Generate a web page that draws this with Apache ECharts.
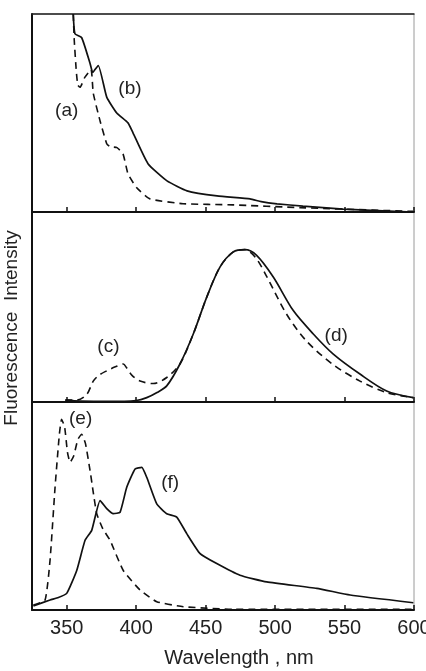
<!DOCTYPE html>
<html>
<head>
<meta charset="utf-8">
<script src="https://cdn.jsdelivr.net/npm/echarts@6/dist/echarts.min.js"></script>
<style>
  html, body { margin: 0; padding: 0; background: #fff; }
  #chart { width: 426px; height: 671px; }
</style>
</head>
<body>
<div id="chart"></div>
<script>
// wavelength (nm), relative intensity (0-100 in each panel)
var curveA = [[354.7,100],[355.4,87],[356.9,71],[358,64],[359.6,63],[363,68],[367.5,72],[369.1,60],[374,46],[378.8,34.5],[381.2,33],[386.2,32.5],[390.5,29.4],[394.1,19.3],[400.4,12.2],[410,6.6],[433.7,4.2],[469.7,3.6],[518,2.2],[599.3,0.3]];
var curveB = [[354.7,100],[355.9,90],[360.8,88],[366.8,75],[368.7,70.5],[372.7,74],[378.8,58],[386,50],[394.1,45],[397.7,40],[408.5,24.4],[422.2,15.7],[436.6,10.7],[458.2,8.1],[482,6.6],[490,5.2],[501.4,4.1],[520,3],[548.9,1.5],[599.3,0]];
var curveC = [[349,1],[357,1],[364.4,4],[369.1,11],[373,14],[378.8,16.4],[385,18.5],[390.7,20],[393.1,18],[397,14],[402.8,11],[412.3,9.7],[422,12.9],[431.5,20],[441.1,35.8],[450.8,55.2],[460.3,71],[469.9,79],[478.3,80.2],[486,76],[494,66],[508.3,46.2],[522.7,32],[541.9,19.6],[561.1,11],[580.3,4.9],[599.5,2.3]];
var curveD = [[349,1],[360,0.5],[380,0.3],[400,0.8],[407.6,2.3],[415,5],[422,8.5],[431.5,20],[441.1,35.8],[450.8,55.2],[460.3,71],[469.9,79],[478.3,80.2],[486.7,77.2],[498.7,65.8],[513.1,48.1],[527.5,35.8],[541.9,25.2],[561.1,14.7],[580.3,5.8],[599.5,2.3]];
var curveE = [[326,2.4],[334.4,4.8],[338,24],[341.6,59],[344.7,84.5],[346.3,91.7],[348.5,88],[350.5,76],[352.4,71],[355,74],[358,82],[360.8,84.5],[363.5,80],[366.8,67],[369.1,56.6],[371.6,46.3],[376,39],[381.2,33.5],[390.7,19],[402.8,9.6],[414.8,4],[433.9,1.6],[470,0.3],[599.5,0.3]];
var curveF = [[326,2],[338,4.8],[344,6],[350,8],[357.2,19],[363.2,33.5],[368,38.3],[374,52.6],[378.8,48.7],[383.5,46.3],[388.4,47],[393.2,59],[399.2,67.8],[404,68.6],[407.6,63.8],[414.8,51],[422,46.3],[429.2,44.7],[436.4,36.7],[446,27.1],[458,22.3],[474.7,16.7],[494,13.5],[530,10.4],[554,7.2],[599.5,3.5]];
var tickValues = [350, 400, 450, 500, 550, 600];
var curveNames = ['(a)', '(b)', '(c)', '(d)', '(e)', '(f)'];
var labelSpots = [[350, 51], [395.5, 62], [380, 29], [544, 35], [360, 92], [424.5, 61]];

var chart = echarts.init(document.getElementById('chart'));
var font = 'Liberation Sans, Arial, sans-serif';

function grid(top, height) {
  return { left: 32, right: 12, top: top, height: height, show: true, borderColor: '#9a9a9a', borderWidth: 1, outerBoundsMode: 'none', containLabel: false };
}
function xAx(idx, withLabels) {
  return {
    type: 'value', gridIndex: idx, min: 325, max: 600, position: 'bottom',
    axisLine: { onZero: false, lineStyle: { color: '#111', width: 2 } },
    axisTick: { inside: true, length: 5, customValues: tickValues, lineStyle: { color: '#111', width: 1.5 } },
    axisLabel: withLabels ? { customValues: tickValues, color: '#222', fontSize: 20, fontFamily: font, margin: 8 } : { show: false },
    splitLine: { show: false },
    name: withLabels ? 'Wavelength , nm' : '',
    nameLocation: 'middle', nameGap: 38,
    nameTextStyle: { color: '#222', fontSize: 20, fontFamily: font, padding: [0, 0, 0, 32] }
  };
}
function yAx(idx) {
  return {
    type: 'value', gridIndex: idx, min: 0, max: 100,
    axisLine: { show: true, lineStyle: { color: '#111', width: 2 } },
    axisTick: { show: false }, axisLabel: { show: false }, splitLine: { show: false }
  };
}
function line(name, data, idx, dashed, spot, smooth) {
  return {
    name: name, type: 'line', xAxisIndex: idx, yAxisIndex: idx, data: data,
    showSymbol: false, smooth: smooth, animation: false, clip: true,
    lineStyle: { color: '#111', width: dashed ? 1.6 : 1.7, type: dashed ? [7, 5] : 'solid' },
    markPoint: {
      symbol: 'circle', symbolSize: 0, animation: false,
      label: { show: true, position: 'inside', formatter: name, color: '#222', fontSize: 19, fontFamily: font },
      data: [{ coord: spot }]
    }
  };
}

var topAxis = {
  type: 'value', gridIndex: 0, min: 325, max: 600, position: 'top',
  axisLine: { onZero: false, lineStyle: { color: '#222', width: 1.5 } },
  axisTick: { show: false }, axisLabel: { show: false }, splitLine: { show: false }
};

chart.setOption({
  backgroundColor: '#fff',
  animation: false,
  grid: [grid(14, 198), grid(212, 190), grid(402, 208)],
  xAxis: [xAx(0, false), xAx(1, false), xAx(2, true), topAxis],
  yAxis: [yAx(0), yAx(1), yAx(2)],
  graphic: [{
    type: 'text', x: 12, y: 328, rotation: Math.PI / 2,
    style: { text: 'Fluorescence  Intensity', fill: '#222', font: '19px ' + font, textAlign: 'center', textVerticalAlign: 'middle' }
  }],
  series: [
    line(curveNames[0], curveA, 0, true, labelSpots[0], 0.15),
    line(curveNames[1], curveB, 0, false, labelSpots[1], 0.15),
    line(curveNames[2], curveC, 1, true, labelSpots[2], 0.3),
    line(curveNames[3], curveD, 1, false, labelSpots[3], 0.3),
    line(curveNames[4], curveE, 2, true, labelSpots[4], 0.15),
    line(curveNames[5], curveF, 2, false, labelSpots[5], 0.15)
  ]
});
</script>
</body>
</html>
